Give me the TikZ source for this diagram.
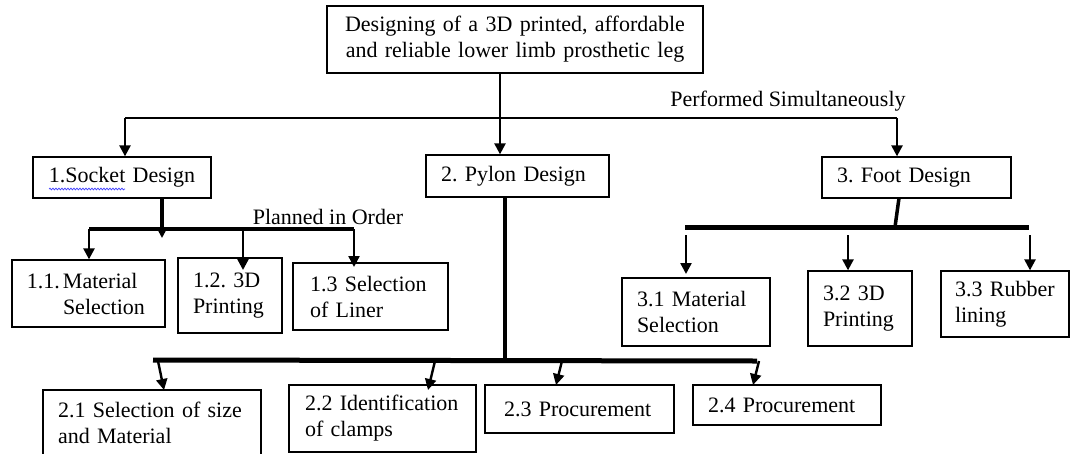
\documentclass[tikz,border=0pt]{standalone}
\usepackage{fontspec}
\setmainfont{Liberation Serif}
\usetikzlibrary{arrows.meta,decorations.pathmorphing}
\frenchspacing
\begin{document}
\begin{tikzpicture}[x=1pt,y=-1pt,
  every node/.style={font=\fontsize{22}{26}\selectfont},
  box/.style={draw, line width=1.3pt, inner ysep=0pt, align=left},
  bar/.style={line width=2.6pt},
  heavy/.style={line width=4.5pt},
  mid/.style={line width=3.5pt},
  arr/.style={line width=2.4pt, -{Triangle[length=11pt,width=11pt]}},
  lbl/.style={inner sep=0pt}]
\useasboundingbox (0,0) rectangle (1070,453);
\fill[white] (0,0) rectangle (1070,453);
\clip (0,0) rectangle (1070,453);

% boxes
\node[box, minimum width=376, minimum height=67, text width=356pt, inner xsep=10pt, align=center] (top) at (515,39.5) {Designing of a 3D printed, affordable\\and reliable lower limb prosthetic leg};
\node[box, minimum height=41, text width=158pt, inner xsep=10pt, align=center] (socket) at (122,177.5) {1.Socket Design};
\node[box, minimum height=42, text width=153pt, inner xsep=15pt] (pylon) at (517.5,176) {2. Pylon Design};
\node[box, minimum height=41, text width=159pt, inner xsep=15pt] (foot) at (916.5,177.5) {3. Foot Design};

\node[box, minimum height=67, text width=123pt, inner xsep=15pt] (m11) at (88.5,293.5) {\makebox[36pt][l]{1.1.}Material\\\hspace*{36pt}Selection};
\node[box, minimum height=75, text width=74pt, inner xsep=15pt] (m12) at (230,295.5) {1.2. 3D\\Printing};
\node[box, minimum height=67, text width=121pt, inner xsep=17pt] (m13) at (370.5,296.5) {1.3 Selection\\of Liner};

\node[box, minimum height=68, text width=118pt, inner xsep=15pt] (f31) at (696,312) {3.1 Material\\Selection};
\node[box, minimum height=75, text width=74pt, inner xsep=15pt] (f32) at (860,308.5) {3.2 3D\\Printing};
\node[box, minimum height=66, text width=100pt, inner xsep=14pt] (f33) at (1005,304) {3.3 Rubber\\lining};

\node[box, minimum height=66, text width=188pt, inner xsep=15pt] (p21) at (152,423) {2.1 Selection of size\\and Material};
\node[box, minimum height=67, text width=155pt, inner xsep=16pt] (p22) at (382.5,418.5) {2.2 Identification\\of clamps};
\node[box, minimum height=48, text width=151pt, inner xsep=19pt] (p23) at (579.5,409) {2.3 Procurement};
\node[box, minimum height=40, text width=158pt, inner xsep=15pt] (p24) at (787,405) {2.4 Procurement};

% labels
\node[lbl] (sim) at (788,101) {Performed Simultaneously};
\node[lbl] (ord) at (328,217) {Planned in Order};

% spell-check squiggle
\draw[blue!75!white, line width=0.7pt, decorate, decoration={snake, amplitude=0.9pt, segment length=3pt}] (49,189) -- (125,189);

% top level
\coordinate (tl) at (125,118);
\coordinate (tm) at (500,118);
\coordinate (tr) at (897,118);
\draw[bar] (top.south -| tm) -- (tm);
\draw[bar] (tl) -- (tr);
\draw[arr] (tl) -- (tl |- socket.north);
\draw[arr] (tm) -- (tm |- pylon.north);
\draw[arr] (tr) -- (tr |- foot.north);

% socket branch
\coordinate (sj) at (162,229);
\coordinate (s1) at (89,229);
\coordinate (s2) at (243,229);
\coordinate (s3) at (354,229);
\coordinate (s2e) at (243,270);
\coordinate (s3e) at (354,267);
\coordinate (sje) at (162,238);
\draw[heavy] (socket.south -| sj) -- (sj);
\draw[heavy] (s1) -- (s3);
\draw[arr] (sj) -- (sje);
\draw[arr] (s1) -- (s1 |- m11.north);
\draw[arr] (s2) -- (s2e);
\draw[arr] (s3) -- (s3e);

% pylon branch
\coordinate (pj) at (505,360);
\coordinate (p1) at (153,360);
\coordinate (p4) at (757,361);
\draw[mid] (pylon.south -| pj) -- (pj);
\draw[line width=5pt] (p1) -- (p4);
\coordinate (a1s) at (158,361); \coordinate (a1e) at (164,390);
\coordinate (a2s) at (435,361); \coordinate (a2e) at (428,390);
\coordinate (a3s) at (562,361); \coordinate (a3e) at (556,385);
\coordinate (a4s) at (759,361); \coordinate (a4e) at (753,385);
\draw[arr] (a1s) -- (a1e);
\draw[arr] (a2s) -- (a2e);
\draw[arr] (a3s) -- (a3e);
\draw[arr] (a4s) -- (a4e);

% foot branch
\coordinate (fs) at (899,198);
\coordinate (fj) at (895,227);
\coordinate (f1) at (685,227);
\coordinate (f3) at (1029,227);
\draw[mid] (fs) -- (fj);
\draw[line width=5pt] (f1) -- (f3);
\coordinate (b1s) at (686,235); \coordinate (b1e) at (686,274);
\coordinate (b2s) at (848,235);
\coordinate (b3s) at (1030,235);
\draw[arr] (b1s) -- (b1e);
\draw[arr] (b2s) -- (b2s |- f32.north);
\draw[arr] (b3s) -- (b3s |- f33.north);
\end{tikzpicture}
\end{document}
